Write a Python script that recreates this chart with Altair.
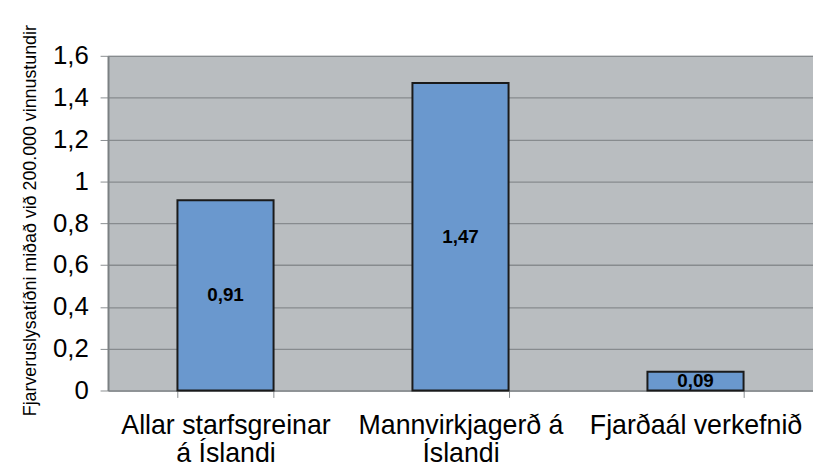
import altair as alt
import pandas as pd

categories = ["Allar starfsgreinar\ná Íslandi", "Mannvirkjagerð á\nÍslandi", "Fjarðaál verkefnið"]
values = [0.91, 1.47, 0.09]
labels = ["0,91", "1,47", "0,09"]

df = pd.DataFrame({"cat": categories, "val": values, "lab": labels, "mid": [v / 2 for v in values]})

FONT = "Liberation Sans"

x = alt.X(
    "cat:N",
    sort=categories,
    title=None,
    scale=alt.Scale(paddingInner=0.591, paddingOuter=0.2955),
    axis=alt.Axis(
        labelAngle=0,
        labelExpr="split(datum.label, '\\n')",
        labelFont=FONT,
        labelFontSize=27,
        labelLineHeight=29,
        labelLimit=0,
        labelColor="#000000",
        labelPadding=15,
        tickBand="extent",
        tickSize=7,
        tickColor="#8a8e91",
        domainColor="#8a8e91",
        domainWidth=1.5,
        grid=False,
    ),
)

y = alt.Y(
    "val:Q",
    scale=alt.Scale(domain=[0, 1.6], nice=False),
    title="Fjarveruslysatíðni miðað við 200.000 vinnustundir",
    axis=alt.Axis(
        values=[0, 0.2, 0.4, 0.6, 0.8, 1.0, 1.2, 1.4, 1.6],
        labelExpr="replace(format(datum.value, '.1~f'), '.', ',')",
        labelFont=FONT,
        labelFontSize=26,
        labelColor="#000000",
        labelPadding=12,
        tickSize=8,
        tickColor="#8a8e91",
        domainColor="#7b8083",
        domainWidth=2,
        grid=True,
        gridColor="#878b8e",
        gridWidth=1.3,
        titleFont=FONT,
        titleFontSize=18,
        titleFontWeight="normal",
        titleColor="#000000",
        titlePadding=13,
        titleY=166,
    ),
)

bars = alt.Chart(df).mark_bar(
    color="#6a98ce", stroke="#1a1a1a", strokeWidth=2
).encode(x=x, y=y)

text = alt.Chart(df).mark_text(
    font=FONT, fontSize=19, fontWeight="bold", color="#000000", baseline="middle"
).encode(x=alt.X("cat:N", sort=categories), y=alt.Y("mid:Q"), text="lab:N")

chart = (
    alt.layer(bars, text)
    .properties(
        width=712,
        height=338,
        autosize=alt.AutoSizeParams(type="none"),
        padding={"left": 101, "top": 46, "right": 0, "bottom": 78},
        background="#ffffff",
    )
    .configure_view(fill="#b9bdc0", stroke=None)
)

chart.save("out.html", embed_options={"renderer": "svg", "actions": False})
